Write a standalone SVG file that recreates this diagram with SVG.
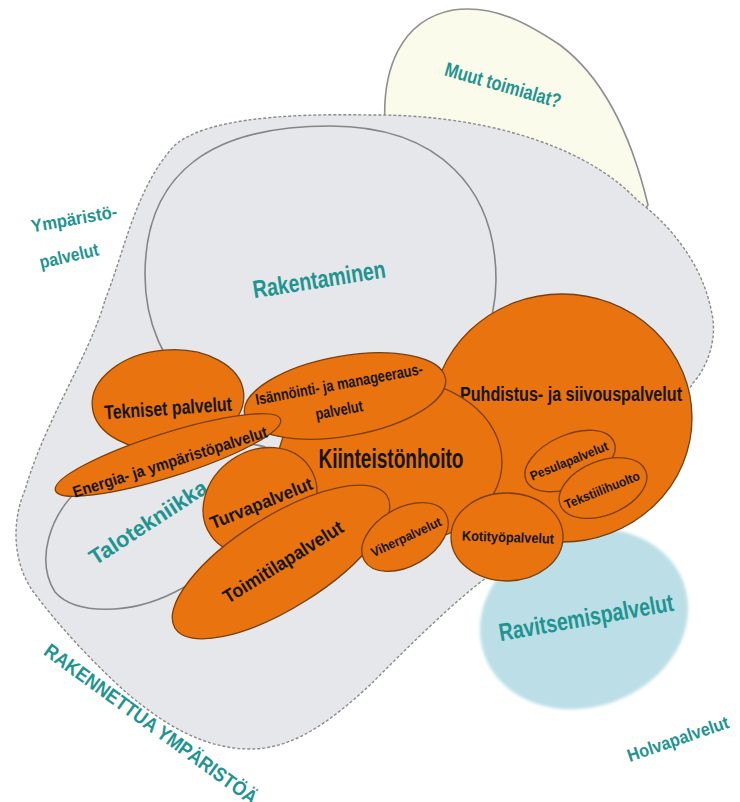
<svg xmlns="http://www.w3.org/2000/svg" width="740" height="802" viewBox="0 0 740 802">
<style>
.region{fill:#e5e7eb;stroke:#8a8a8a;stroke-width:1.4;stroke-dasharray:3 2}
.outline{fill:none;stroke:#858585;stroke-width:1.6}
.yel{fill:#fbfbec;stroke:#8f8f8f;stroke-width:1.6}
.or{fill:#e8730f;stroke:#7a3f0c;stroke-width:1.3}
.blue{fill:#bcdfe7}
.tl{font-family:"Liberation Sans",Arial,sans-serif;font-weight:bold;fill:#1f9490;text-anchor:middle}
.bl{font-family:"Liberation Sans",Arial,sans-serif;font-weight:bold;fill:#161616;text-anchor:middle}
</style>
<defs>
<filter id="soft" x="-10%" y="-10%" width="120%" height="120%"><feGaussianBlur stdDeviation="1.8"/></filter>
</defs>
<rect x="0" y="0" width="740" height="802" fill="#ffffff"/>

<g id="muut-toimialat">
<path class="yel" d="M385,125 C382,70 400,20 453,10 C495,4 530,25 560,45 C600,75 630,130 648,205 L620,240 L400,170 Z"/>
<text class="tl" font-size="20" transform="translate(503,85) rotate(16)" y="7" textLength="120" lengthAdjust="spacingAndGlyphs">Muut toimialat?</text>
</g>

<g id="ravitsemispalvelut">
<ellipse class="blue" cx="584" cy="619" rx="106" ry="88" transform="rotate(-20 584 619)" filter="url(#soft)"/>
<text class="tl" font-size="25" transform="translate(586,617) rotate(-10)" y="9" textLength="177" lengthAdjust="spacingAndGlyphs">Ravitsemispalvelut</text>
</g>

<g id="rakennettua-ymparistoa">
<path class="region" d="M105,300 C125,250 135,190 173,147 C200,120 280,113 370,115 C470,114 580,140 637,200 C670,225 705,265 713,320 C716,345 705,370 693,383 C660,440 560,520 490,575 C455,600 405,650 370,685 C330,722 292,750 248,749 C203,748 165,725 128,694 C94,664 57,624 32,590 C12,560 12,520 25,490 C45,420 90,355 105,300 Z"/>
<text class="tl" font-size="20" transform="translate(151,724) rotate(36)" y="7" textLength="258" lengthAdjust="spacingAndGlyphs">RAKENNETTUA YMPÄRISTÖÄ</text>
</g>

<g id="ymparistopalvelut">
<text class="tl" font-size="18" transform="translate(74,219) rotate(-10)" y="6" textLength="87" lengthAdjust="spacingAndGlyphs">Ympäristö-</text>
<text class="tl" font-size="18" transform="translate(69,256) rotate(-13)" y="6" textLength="60" lengthAdjust="spacingAndGlyphs">palvelut</text>
</g>

<g id="holvapalvelut">
<text class="tl" font-size="18" transform="translate(678,739) rotate(-19)" y="6" textLength="106" lengthAdjust="spacingAndGlyphs">Holvapalvelut</text>
</g>

<g id="rakentaminen">
<path class="outline" d="M145,275 C145,170 215,126 330,126 C440,126 496,190 496,280 C496,370 420,440 320,440 C220,440 145,370 145,275 Z"/>
<text class="tl" font-size="25" transform="translate(319,279) rotate(-9)" y="9" textLength="134" lengthAdjust="spacingAndGlyphs">Rakentaminen</text>
</g>

<g id="talotekniikka">
<path class="outline" stroke-width="1.3" d="M80,488 C50,515 35,560 55,592 C75,615 130,615 175,592 C220,570 265,530 280,480 C288,455 265,440 240,446 C180,455 110,470 80,488 Z"/>
<text class="tl" font-size="22" transform="translate(148,522) rotate(-33)" y="8" textLength="136" lengthAdjust="spacingAndGlyphs">Talotekniikka</text>
</g>

<g id="puhdistus">
<ellipse class="or" cx="562" cy="418" rx="130" ry="124"/>
<text class="bl" font-size="20" x="571" y="401" textLength="222" lengthAdjust="spacingAndGlyphs">Puhdistus- ja siivouspalvelut</text>
</g>

<g id="kiinteistonhoito">
<ellipse class="or" cx="390" cy="462" rx="112" ry="84"/>
<text class="bl" font-size="27" x="391" y="468" textLength="145" lengthAdjust="spacingAndGlyphs">Kiinteistönhoito</text>
</g>

<g id="tekniset">
<ellipse class="or" cx="168" cy="400" rx="76" ry="50" transform="rotate(-5 168 400)"/>
<text class="bl" font-size="20" transform="translate(168,408) rotate(-4)" y="7" textLength="128" lengthAdjust="spacingAndGlyphs">Tekniset palvelut</text>
</g>

<g id="isannointi">
<ellipse class="or" cx="345" cy="396" rx="102" ry="40" transform="rotate(-10 345 396)"/>
<text class="bl" font-size="16" transform="translate(339,384) rotate(-10.5)" y="5.5" textLength="170" lengthAdjust="spacingAndGlyphs">Isännöinti- ja manageeraus-</text>
<text class="bl" font-size="16" transform="translate(339,410) rotate(-10.5)" y="5.5" textLength="48" lengthAdjust="spacingAndGlyphs">palvelut</text>
</g>

<g id="energia">
<ellipse class="or" cx="168" cy="455" rx="118" ry="22" transform="rotate(-17.5 168 455)"/>
<text class="bl" font-size="16" transform="translate(170,462) rotate(-17.5)" y="5.5" textLength="203" lengthAdjust="spacingAndGlyphs">Energia- ja ympäristöpalvelut</text>
</g>

<g id="turvapalvelut">
<ellipse class="or" cx="260" cy="501" rx="60" ry="50" transform="rotate(-35 260 501)"/>
<text class="bl" font-size="18" transform="translate(261,503) rotate(-22)" y="6.5" textLength="109" lengthAdjust="spacingAndGlyphs">Turvapalvelut</text>
</g>

<g id="toimitilapalvelut">
<ellipse class="or" cx="281" cy="562" rx="125" ry="46" transform="rotate(-32 281 562)"/>
<text class="bl" font-size="19" transform="translate(283,562) rotate(-32)" y="6.5" textLength="138" lengthAdjust="spacingAndGlyphs">Toimitilapalvelut</text>
</g>

<g id="viherpalvelut">
<ellipse class="or" cx="405" cy="537" rx="47" ry="29" transform="rotate(-30 405 537)"/>
<text class="bl" font-size="13" transform="translate(406,537) rotate(-25)" y="4.5" textLength="76" lengthAdjust="spacingAndGlyphs">Viherpalvelut</text>
</g>

<g id="kotityopalvelut">
<ellipse class="or" cx="507" cy="537" rx="56" ry="44"/>
<text class="bl" font-size="14" transform="translate(508,537) rotate(2)" y="5" textLength="92" lengthAdjust="spacingAndGlyphs">Kotityöpalvelut</text>
</g>

<g id="pesulapalvelut">
<ellipse class="or" cx="570" cy="461" rx="48" ry="26" transform="rotate(-24 570 461)"/>
<text class="bl" font-size="13" transform="translate(569,461) rotate(-22)" y="4.5" textLength="83" lengthAdjust="spacingAndGlyphs">Pesulapalvelut</text>
</g>

<g id="tekstiilihuolto">
<ellipse class="or" cx="603" cy="488" rx="46" ry="27" transform="rotate(-22 603 488)"/>
<text class="bl" font-size="13" transform="translate(602,490) rotate(-22)" y="4.5" textLength="80" lengthAdjust="spacingAndGlyphs">Tekstiilihuolto</text>
</g>
</svg>
